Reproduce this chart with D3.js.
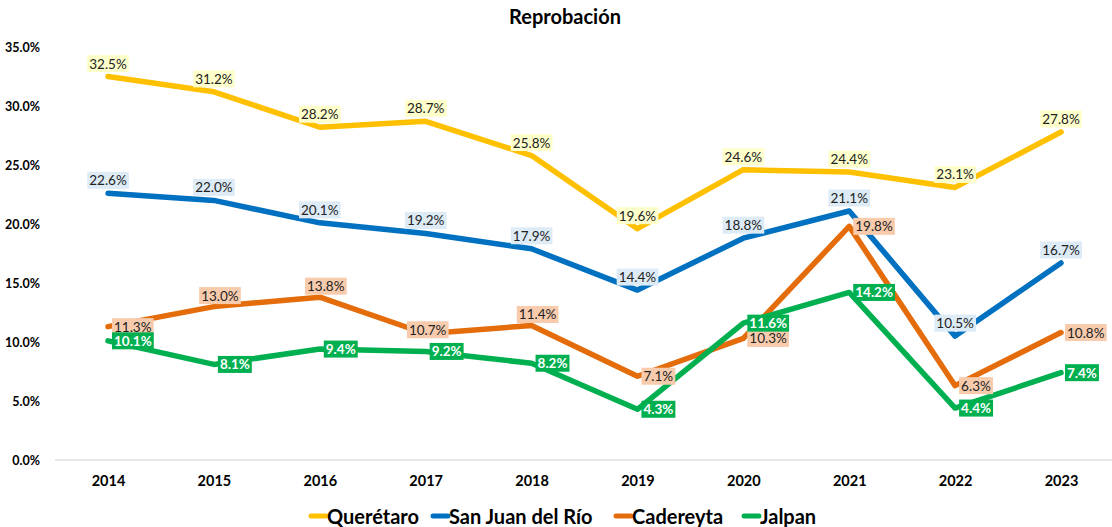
<!DOCTYPE html>
<html lang="es">
<head>
<meta charset="UTF-8">
<title>Reprobación</title>
<script src="https://d3js.org/d3.v7.min.js"></script>
<style>
    body { margin: 0; background: #fff; font-family: Lato, "Open Sans", sans-serif; }
    text { font-family: Lato, "Open Sans", sans-serif; }
</style>
</head>
<body>
<div id="chart"></div>
<script>
    const years = ["2014", "2015", "2016", "2017", "2018", "2019", "2020", "2021", "2022", "2023"];
    const queretaro = [32.5, 31.2, 28.2, 28.7, 25.8, 19.6, 24.6, 24.4, 23.1, 27.8];
    const sanJuan = [22.6, 22.0, 20.1, 19.2, 17.9, 14.4, 18.8, 21.1, 10.5, 16.7];
    const cadereyta = [11.3, 13.0, 13.8, 10.7, 11.4, 7.1, 10.3, 19.8, 6.3, 10.8];
    const jalpan = [10.1, 8.1, 9.4, 9.2, 8.2, 4.3, 11.6, 14.2, 4.4, 7.4];
    const yTicks = [0, 5, 10, 15, 20, 25, 30, 35];

    // where each data label sits relative to its point
    const cadereytaPlace = ["r", "tr", "tr", "c", "tr", "r", "r", "r", "r", "r"];

    const width = 1112, height = 527;
    const margin = { top: 47, right: 0, bottom: 67, left: 55 };

    const svg = d3.select("#chart").append("svg")
        .attr("width", width)
        .attr("height", height);

    const x = d3.scalePoint().domain(years).range([108, 1061]);
    const y = d3.scaleLinear().domain([0, 35]).range([460, 47]);

    svg.append("text")
        .attr("x", 565).attr("y", 24)
        .attr("text-anchor", "middle")
        .attr("font-size", 20).attr("font-weight", "bold")
        .attr("fill", "#000")
        .text("Reprobación");

    // y axis labels
    const yAxis = svg.append("g")
        .attr("transform", "translate(43,0)")
        .call(d3.axisLeft(y).tickValues(yTicks).tickSize(0).tickFormat(d => d.toFixed(1) + "%"));
    yAxis.select(".domain").remove();
    yAxis.selectAll("text").attr("font-size", 12.5).attr("font-weight", "bold").attr("fill", "#000");

    // baseline
    svg.append("line")
        .attr("x1", margin.left).attr("x2", width)
        .attr("y1", y(0)).attr("y2", y(0))
        .attr("stroke", "#d0d0d0").attr("stroke-width", 1);

    const xAxis = svg.append("g")
        .attr("transform", `translate(0,${y(0)})`)
        .call(d3.axisBottom(x).tickSize(0).tickPadding(16));
    xAxis.select(".domain").remove();
    xAxis.selectAll("text").attr("font-size", 14.5).attr("font-weight", "bold").attr("fill", "#000");

    const series = [
        { name: "Querétaro", values: queretaro, color: "#FFC000", bg: "#FFFFCC", fg: "#222", bold: false, place: years.map(() => "t") },
        { name: "San Juan del Río", values: sanJuan, color: "#0070C0", bg: "#DDEBF7", fg: "#222", bold: false, place: years.map(() => "t") },
        { name: "Cadereyta", values: cadereyta, color: "#E46C0A", bg: "#F8CBAD", fg: "#222", bold: false, place: cadereytaPlace },
        { name: "Jalpan", values: jalpan, color: "#00B050", bg: "#00B050", fg: "#fff", bold: true, place: years.map(() => "r") }
    ];

    const line = d3.line()
        .x((d, i) => x(years[i]))
        .y(d => y(d));

    series.forEach(s => {
        svg.append("path")
            .datum(s.values)
            .attr("d", line)
            .attr("fill", "none")
            .attr("stroke", s.color)
            .attr("stroke-width", 5.5)
            .attr("stroke-linejoin", "round")
            .attr("stroke-linecap", "round");
    });

    // data labels
    series.forEach(s => {
        s.values.forEach((v, i) => {
            const px = x(years[i]), py = y(v);
            const p = s.place[i];
            let cx = px, cy = py, anchor = "middle";
            if (p === "t") cy = py - 13;
            else if (p === "tr") { cx = px + 6; cy = py - 11; }
            else if (p === "c") { cx = px + 2; cy = py - 4; }
            else if (p === "r") { cx = px + 6; anchor = "start"; }
            const g = svg.append("g");
            const t = g.append("text")
                .attr("x", cx).attr("y", cy)
                .attr("text-anchor", anchor)
                .attr("dominant-baseline", "central")
                .attr("font-size", 13.5)
                .attr("font-weight", s.bold ? "bold" : "normal")
                .attr("fill", s.fg)
                .text(v.toFixed(1) + "%");
            const bb = t.node().getBBox();
            g.insert("rect", "text")
                .attr("x", bb.x - 2).attr("y", cy - 8.5)
                .attr("width", bb.width + 4).attr("height", 17)
                .attr("fill", s.bg);
        });
    });

    // legend
    const legend = svg.append("g").attr("transform", "translate(0,516)");
    const items = [
        { x: 311, s: series[0] },
        { x: 433, s: series[1] },
        { x: 616, s: series[2] },
        { x: 744, s: series[3] }
    ];
    items.forEach(it => {
        legend.append("line")
            .attr("x1", it.x).attr("x2", it.x + 15)
            .attr("y1", 0).attr("y2", 0)
            .attr("stroke", it.s.color).attr("stroke-width", 5)
            .attr("stroke-linecap", "round");
        legend.append("text")
            .attr("x", it.x + 16).attr("y", 0)
            .attr("dominant-baseline", "central")
            .attr("font-size", 20).attr("font-weight", "bold")
            .attr("fill", "#000")
            .text(it.s.name);
    });
</script>
</body>
</html>
